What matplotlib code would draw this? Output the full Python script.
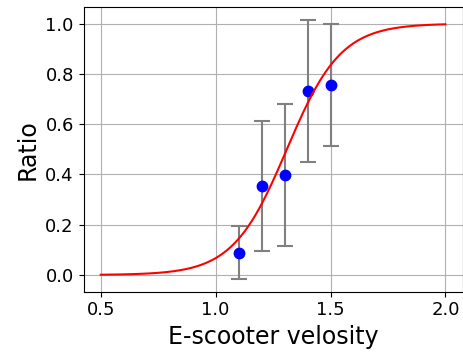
import numpy as np
import matplotlib.pyplot as plt

# measured points
velocity = [1.1, 1.2, 1.3, 1.4, 1.5]
ratio = [0.089, 0.355, 0.399, 0.733, 0.756]
ratio_err = [0.104, 0.258, 0.282, 0.282, 0.241]

# fitted logistic curve parameters
k_fit = 8.5
x0_fit = 1.31
x_start, x_end = 0.5, 2.0

xs = np.linspace(x_start, x_end, 300)
ys = 1.0 / (1.0 + np.exp(-k_fit * (xs - x0_fit)))

fig = plt.figure(figsize=(4.64, 3.61), dpi=100)
ax = fig.add_subplot(111)

ax.errorbar(velocity, ratio, yerr=ratio_err, fmt="none", ecolor="gray",
            elinewidth=1.5, capsize=6, capthick=1.5)
ax.plot(velocity, ratio, "o", color="blue", markersize=7.5)
ax.plot(xs, ys, color="red", linewidth=1.5)

ax.set_xticks([0.5, 1.0, 1.5, 2.0])
ax.tick_params(labelsize=13)
ax.set_xlabel("E-scooter velosity", fontsize=17)
ax.set_ylabel("Ratio", fontsize=17)
ax.grid(True)

fig.subplots_adjust(left=0.18, right=0.997, top=0.981, bottom=0.192)
fig.savefig("out.png")
